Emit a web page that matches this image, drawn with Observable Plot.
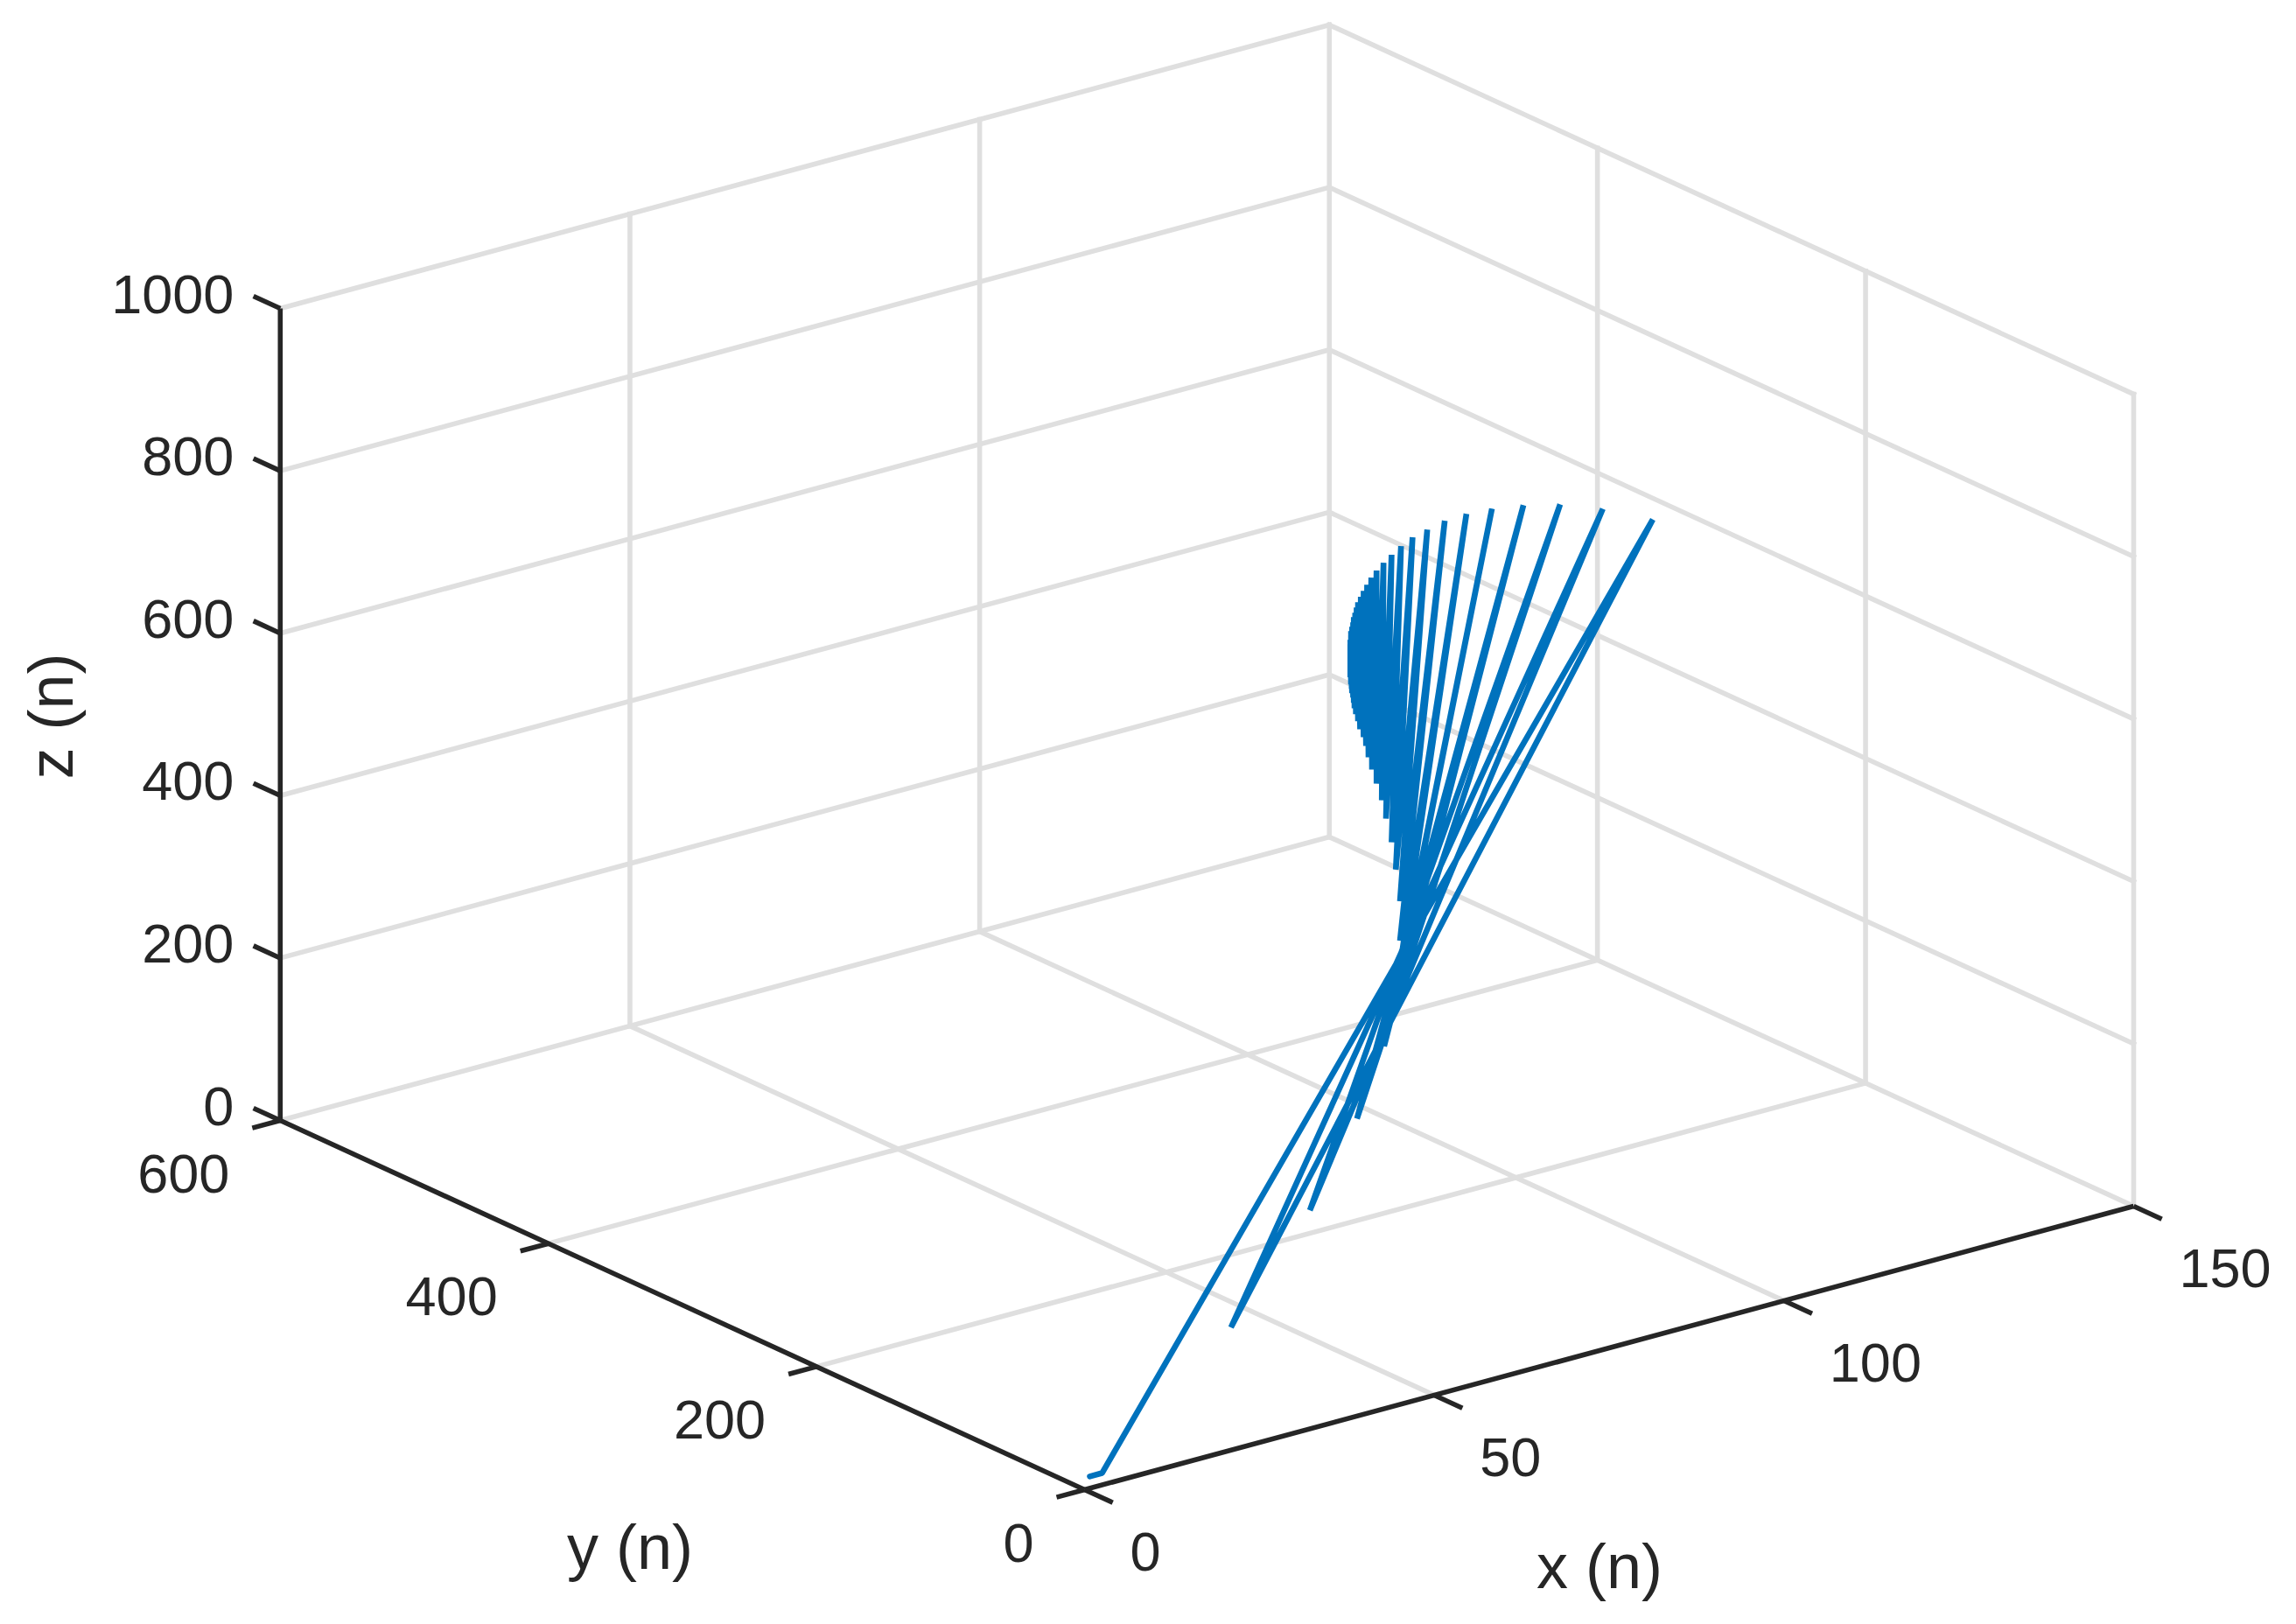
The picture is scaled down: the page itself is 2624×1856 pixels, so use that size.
<!DOCTYPE html>
<html>
<head>
<meta charset="utf-8">
<style>html,body{margin:0;padding:0;background:#fff}svg{display:block}</style>
<script src="https://cdn.jsdelivr.net/npm/d3@7"></script>
<script src="https://cdn.jsdelivr.net/npm/@observablehq/plot@0.6"></script>
</head>
<body>
<script>
const xTicks = [0, 50, 100, 150];
const yTicks = [0, 200, 400, 600];
const zTicks = [0, 200, 400, 600, 800, 1000];

const startX = 0.75, startY = 0, startZ = 14.5;
const lowerX = [2.5,28.6,47.55,61.95,73.5,83,102.6,102.6,102,101.4,100.6,100,99.25,98.6,98.1,97.75,97.4,96.9,96.6,96.3,96.1,96,95.9,95.75,95.7,95.6,95.6,95.5,95.5,95.5,95.5,95.5,95.5];
const lowerY = [0,40,80,120,160,200,300,300,300,300,300,300,300,300,300,300,300,300,300,300,300,300,300,300,300,300,300,300,300,300,300,300,300];
const lowerZ = [14.6,103,172.8,221.8,253.8,274.2,210,258.6,298.9,333.9,364.9,389,411.2,430,446.3,461.2,472.8,483.7,494.2,503.5,511.4,518.2,525,530.7,536.2,541.8,546.1,550.8,554,557.2,560.5,563.7,567];
const upperX = [138.75,131.6,125.5,120.25,115.75,112.1,109,106.5,104.4,102.75,101.4,100.25,99.25,98.5,97.9,97.4,97,96.6,96.4,96.2,96,95.9,95.75,95.6,95.6,95.5,95.5,95.5,95.5,95.5,95.5,95.5];
const upperY = [300,300,300,300,300,300,300,300,300,300,300,300,300,300,300,300,300,300,300,300,300,300,300,300,300,300,300,300,300,300,300,300];
const upperZ = [644.5,674.2,694,705.2,711.4,713.6,712.2,707.2,702.5,695.5,688,680.8,673.5,666.6,659.3,653,646.4,640.8,634.8,628.8,623.9,617.6,612.6,607.5,602.1,597,591.6,587.3,583,579.8,576.5,573.3];

// 3D view of the box, as a linear projection of (x, y, z) onto the page
const sx = (x, y) => 1239 + 7.993 * x - 1.532 * y;
const sy = (x, y, z) => 1702 - 2.16 * x - 0.7033 * y - 0.928 * z;
const seg = (a, b) => ({x1: sx(a[0], a[1]), y1: sy(...a), x2: sx(b[0], b[1]), y2: sy(...b)});
const pt = (x, y, z, label) => ({px: sx(x, y), py: sy(x, y, z), label});

const path = [{px: sx(startX, startY), py: sy(startX, startY, startZ)}];
lowerX.forEach((_, i) => {
  path.push(pt(lowerX[i], lowerY[i], lowerZ[i]));
  if (i < upperX.length) path.push(pt(upperX[i], upperY[i], upperZ[i]));
});

const grid = [
  ...zTicks.flatMap(z => [seg([0, 600, z], [150, 600, z]), seg([150, 600, z], [150, 0, z])]),
  ...xTicks.slice(1).map(x => seg([x, 600, 0], [x, 600, 1000])),
  ...xTicks.slice(1, 3).map(x => seg([x, 0, 0], [x, 600, 0])),
  ...yTicks.slice(0, 3).map(y => seg([150, y, 0], [150, y, 1000])),
  ...yTicks.slice(1, 3).map(y => seg([0, y, 0], [150, y, 0]))
];
const axes = [
  seg([0, 0, 0], [150, 0, 0]),
  seg([0, 0, 0], [0, 600, 0]),
  seg([0, 600, 0], [0, 600, 1000]),
  ...xTicks.map(x => seg([x, 0, 0], [x, -21, 0])),
  ...yTicks.map(y => seg([0, y, 0], [-4, y, 0])),
  ...zTicks.map(z => seg([0, 600, z], [0, 620, z]))
];

const ink = "#262626";
const txt = {x: "px", y: "py", text: "label", fill: ink, fontSize: 63};

const chart = Plot.plot({
  width: 2624, height: 1856,
  marginTop: 0, marginRight: 0, marginBottom: 0, marginLeft: 0,
  x: {domain: [0, 2624], range: [0, 2624], axis: null},
  y: {domain: [0, 1856], range: [0, 1856], axis: null},
  style: {fontFamily: "'Liberation Sans', Arial, sans-serif", background: "#fff"},
  marks: [
    Plot.link(grid, {x1: "x1", y1: "y1", x2: "x2", y2: "y2", stroke: "#dfdfdf", strokeWidth: 5.6, strokeLinecap: "square"}),
    Plot.line(path, {x: "px", y: "py", stroke: "#0072BD", strokeWidth: 6.6, strokeLinejoin: "bevel"}),
    Plot.link(axes, {x1: "x1", y1: "y1", x2: "x2", y2: "y2", stroke: ink, strokeWidth: 5.6}),
    Plot.text(xTicks.map(x => pt(x, 0, 0, String(x))), {...txt, textAnchor: "start", dx: 52, dy: 72}),
    Plot.text(yTicks.map(y => pt(0, y, 0, String(y))), {...txt, textAnchor: "end", dx: -58, dy: 62}),
    Plot.text(zTicks.map(z => pt(0, 600, z, String(z))), {...txt, textAnchor: "end", dx: -53, dy: -15}),
    Plot.text([pt(75, 0, 0, "x (n)")], {...txt, fontSize: 72, dx: -11, dy: 251}),
    Plot.text([pt(0, 300, 0, "y (n)")], {...txt, fontSize: 72, dx: -60, dy: 278}),
    Plot.text([pt(0, 600, 500, "z (n)")], {...txt, fontSize: 72, rotate: -90, dx: -260, dy: 2})
  ]
});
document.body.appendChild(chart);
</script>
</body>
</html>
